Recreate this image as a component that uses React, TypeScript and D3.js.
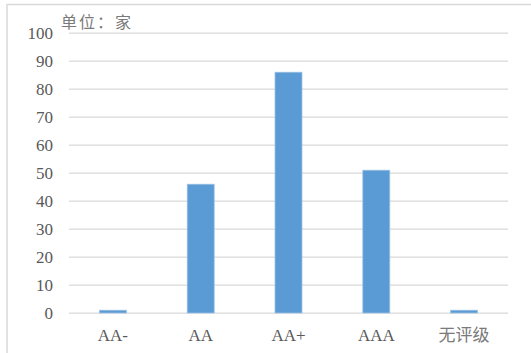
import React from "react";
import * as d3 from "d3";

const categories: string[] = ["AA-", "AA", "AA+", "AAA", "无评级"];
const counts: number[] = [1, 46, 86, 51, 1];
const yTicks: number[] = [0, 10, 20, 30, 40, 50, 60, 70, 80, 90, 100];
const unitLabel = "单位：家";

const W = 531;
const H = 353;
const FONT = "'Liberation Serif', 'Times New Roman', 'Noto Sans CJK SC', serif";
const CJK = /[\u3000-\u9fff\uff00-\uffef]/;

export default function App() {
  const x = d3
    .scaleBand<string>()
    .domain(categories)
    .range([69, 508])
    .paddingInner(0.6925)
    .paddingOuter(0.6925 / 2);
  const y = d3.scaleLinear().domain([0, 100]).range([313, 33]);

  // CJK glyphs render lighter than the serif digits
  const labelFill = (s: string) => (CJK.test(s) ? "#7a7a7a" : "#595959");

  return (
    <svg
      width={W}
      height={H}
      style={{ position: "absolute", left: 0, top: 0, background: "#fff" }}
      fontFamily={FONT}
    >
      {/* chart frame */}
      <path d={`M7,${H + 2} V4.5 H${W + 2}`} fill="none" stroke="#D9D9D9" strokeWidth={1.5} />

      {/* horizontal gridlines */}
      {yTicks.map((t) => (
        <line
          key={`g${t}`}
          x1={x.range()[0]}
          x2={x.range()[1]}
          y1={y(t)}
          y2={y(t)}
          stroke="#D9D9D9"
          strokeWidth={1.25}
        />
      ))}

      {/* y tick labels */}
      {yTicks.map((t) => (
        <text
          key={`t${t}`}
          x={53}
          y={y(t)}
          dy="0.36em"
          textAnchor="end"
          fontSize={17}
          fill="#595959"
        >
          {t}
        </text>
      ))}

      {/* bars */}
      {categories.map((c, i) => (
        <rect
          key={c}
          x={x(c)!}
          y={y(counts[i])}
          width={x.bandwidth()}
          height={y(0) - y(counts[i])}
          fill="#5B9BD5"
          stroke="#9DC3E6"
          strokeWidth={0.75}
        />
      ))}

      {/* category labels */}
      {categories.map((c) => (
        <text
          key={`c${c}`}
          x={x(c)! + x.bandwidth() / 2}
          y={341}
          textAnchor="middle"
          fontSize={17}
          fill={labelFill(c)}
        >
          {c}
        </text>
      ))}

      {/* unit label */}
      <text x={61} y={28} fontSize={16} fill="#7a7a7a" letterSpacing={2}>
        {unitLabel}
      </text>
    </svg>
  );
}
